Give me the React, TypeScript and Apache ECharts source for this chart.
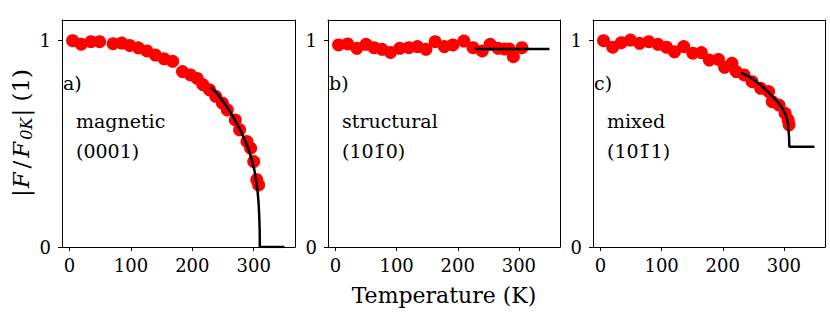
import React, { useEffect, useRef } from "react";
import * as echarts from "echarts";

// Panel a) magnetic (0001)
const magT = [5, 19, 35, 49, 71, 85, 98, 112, 126, 140, 154, 168, 184, 197, 208, 217, 228, 238, 249, 257, 270, 277, 289, 295, 300, 305, 308];
const magV = [1.0, 0.983, 0.995, 0.995, 0.985, 0.988, 0.977, 0.965, 0.95, 0.93, 0.912, 0.9, 0.85, 0.834, 0.817, 0.787, 0.762, 0.73, 0.697, 0.664, 0.616, 0.568, 0.511, 0.479, 0.414, 0.326, 0.301];
const magFitT = [230, 238, 246, 254, 262, 270, 278, 285, 292, 297, 301, 304, 306.5, 308, 309, 309.7, 310, 350];
const magFitV = [0.775, 0.752, 0.722, 0.69, 0.652, 0.612, 0.568, 0.522, 0.47, 0.42, 0.375, 0.32, 0.265, 0.21, 0.15, 0.08, 0, 0];

// Panel b) structural (10-10)
const strT = [5, 20, 35, 50, 63, 76, 90, 105, 120, 134, 148, 163, 178, 192, 210, 225, 240, 253, 266, 277, 284, 291, 305];
const strV = [0.979, 0.984, 0.963, 0.982, 0.966, 0.958, 0.943, 0.963, 0.966, 0.971, 0.958, 0.995, 0.971, 0.979, 0.998, 0.966, 0.95, 0.982, 0.963, 0.959, 0.96, 0.922, 0.966];
const strFitT = [228, 350];
const strFitV = [0.959, 0.959];

// Panel c) mixed (10-11)
const mixT = [5, 20, 34, 49, 64, 79, 94, 108, 121, 136, 151, 165, 178, 193, 203, 215, 222, 235, 248, 262, 275, 281, 292, 302, 307, 308.5];
const mixV = [1.0, 0.968, 0.99, 1.003, 0.987, 0.995, 0.982, 0.968, 0.946, 0.971, 0.939, 0.942, 0.906, 0.909, 0.871, 0.89, 0.85, 0.834, 0.801, 0.769, 0.753, 0.704, 0.688, 0.648, 0.616, 0.592];
const mixFitT = [230, 245, 260, 271, 282, 292, 299, 304, 306.5, 307.5, 308.5, 309, 350];
const mixFitV = [0.845, 0.822, 0.79, 0.761, 0.728, 0.697, 0.665, 0.632, 0.6, 0.571, 0.53, 0.486, 0.486];

const xTicks = [0, 100, 200, 300];
const yTicks = [0, 1];
const panelLetters = ["a)", "b)", "c)"];
const panelNames = ["magnetic", "structural", "mixed"];
const panelPlanes = ["(0001)", "(10\u0031\u03040)", "(10\u0031\u03041)"];
const xLabel = "Temperature (K)";

const FONT = "DejaVu Serif";

export default function App() {
  const ref = useRef<HTMLDivElement>(null);
  useEffect(() => {
    document.body.style.margin = "0";
    const chart = echarts.init(ref.current!, null, { renderer: "svg" });
    const lefts = [62, 328, 593];
    const widths = [233, 232, 232];
    const scat = [
      [magT, magV],
      [strT, strV],
      [mixT, mixV],
    ];
    const fits = [
      [magFitT, magFitV],
      [strFitT, strFitV],
      [mixFitT, mixFitV],
    ];
    const grids = lefts.map((l, i) => ({
      left: l,
      top: 20,
      width: widths[i],
      height: 227,
    }));
    const lineStyle = { color: "#000", width: 1 };
    const xAxes: any[] = [];
    const yAxes: any[] = [];
    lefts.forEach((_, i) => {
      xAxes.push({
        type: "value",
        gridIndex: i,
        position: "bottom",
        min: -12.25,
        max: 367.25,
        axisLine: { show: true, onZero: false, lineStyle },
        axisTick: { show: true, inside: false, length: 4, customValues: xTicks, lineStyle },
        axisLabel: { customValues: xTicks, color: "#000", fontFamily: FONT, fontSize: 18, margin: 9 },
        splitLine: { show: false },
      });
      xAxes.push({
        type: "value",
        gridIndex: i,
        position: "top",
        min: -12.25,
        max: 367.25,
        axisLine: { show: true, onZero: false, lineStyle },
        axisTick: { show: false },
        axisLabel: { show: false },
        splitLine: { show: false },
      });
      yAxes.push({
        type: "value",
        gridIndex: i,
        position: "left",
        min: 0,
        max: 1.1,
        axisLine: { show: true, onZero: false, lineStyle },
        axisTick: { show: true, inside: false, length: 4, customValues: yTicks, lineStyle },
        axisLabel: { customValues: yTicks, color: "#000", fontFamily: FONT, fontSize: 18, margin: 11 },
        splitLine: { show: false },
      });
      yAxes.push({
        type: "value",
        gridIndex: i,
        position: "right",
        min: 0,
        max: 1.1,
        axisLine: { show: true, onZero: false, lineStyle },
        axisTick: { show: false },
        axisLabel: { show: false },
        splitLine: { show: false },
      });
    });
    const series: any[] = [];
    scat.forEach(([t, v], i) => {
      series.push({
        type: "scatter",
        xAxisIndex: 2 * i,
        yAxisIndex: 2 * i,
        data: t.map((x, k) => [x, v[k]]),
        symbol: "circle",
        symbolSize: 13,
        itemStyle: { color: "#ff0000", opacity: 1 },
        z: 2,
      });
    });
    fits.forEach(([t, v], i) => {
      series.push({
        type: "line",
        xAxisIndex: 2 * i,
        yAxisIndex: 2 * i,
        data: t.map((x, k) => [x, v[k]]),
        showSymbol: false,
        symbol: "none",
        lineStyle: { color: "#000", width: 2.5 },
        z: 3,
      });
    });
    const graphics: any[] = [];
    lefts.forEach((l, i) => {
      graphics.push({
        type: "text",
        x: l + 1,
        y: 83,
        style: { text: panelLetters[i], fontFamily: FONT, fontSize: 19, fill: "#000", verticalAlign: "middle", align: "left" },
      });
      graphics.push({
        type: "text",
        x: l + 14,
        y: 121,
        style: { text: panelNames[i], fontFamily: FONT, fontSize: 19, fill: "#000", verticalAlign: "middle", align: "left" },
      });
      graphics.push({
        type: "text",
        x: l + 14,
        y: 151,
        style: { text: panelPlanes[i], fontFamily: FONT, fontSize: 19, fill: "#000", verticalAlign: "middle", align: "left" },
      });
    });
    graphics.push({
      type: "text",
      x: 444,
      y: 295,
      style: { text: xLabel, fontFamily: FONT, fontSize: 22, fill: "#000", align: "center", verticalAlign: "middle" },
    });
    graphics.push({
      type: "text",
      x: 21,
      y: 133,
      rotation: Math.PI / 2,
      style: {
        text: "{n||}{i|F}{d|/}{i|F}{s|0K}{n||}{n| (1)}",
        align: "center",
        verticalAlign: "middle",
        fill: "#000",
        rich: {
          n: { fontFamily: FONT, fontSize: 23, fill: "#000", lineHeight: 26, verticalAlign: "middle" },
          d: { fontFamily: FONT, fontSize: 23, fill: "#000", lineHeight: 26, verticalAlign: "middle", padding: [0, 2, 0, 2] },
          i: { fontFamily: FONT, fontSize: 23, fontStyle: "italic", fill: "#000", lineHeight: 26, verticalAlign: "middle", padding: [0, 2, 0, 1] },
          s: { fontFamily: FONT, fontSize: 16, fontStyle: "italic", fill: "#000", lineHeight: 16, verticalAlign: "bottom", padding: [7, 1, 0, 0] },
        },
      },
    });
    chart.setOption({
      animation: false,
      backgroundColor: "#fff",
      grid: grids,
      xAxis: xAxes,
      yAxis: yAxes,
      series,
      graphic: graphics,
    });
    return () => chart.dispose();
  }, []);
  return <div ref={ref} style={{ width: 830, height: 312 }} />;
}
